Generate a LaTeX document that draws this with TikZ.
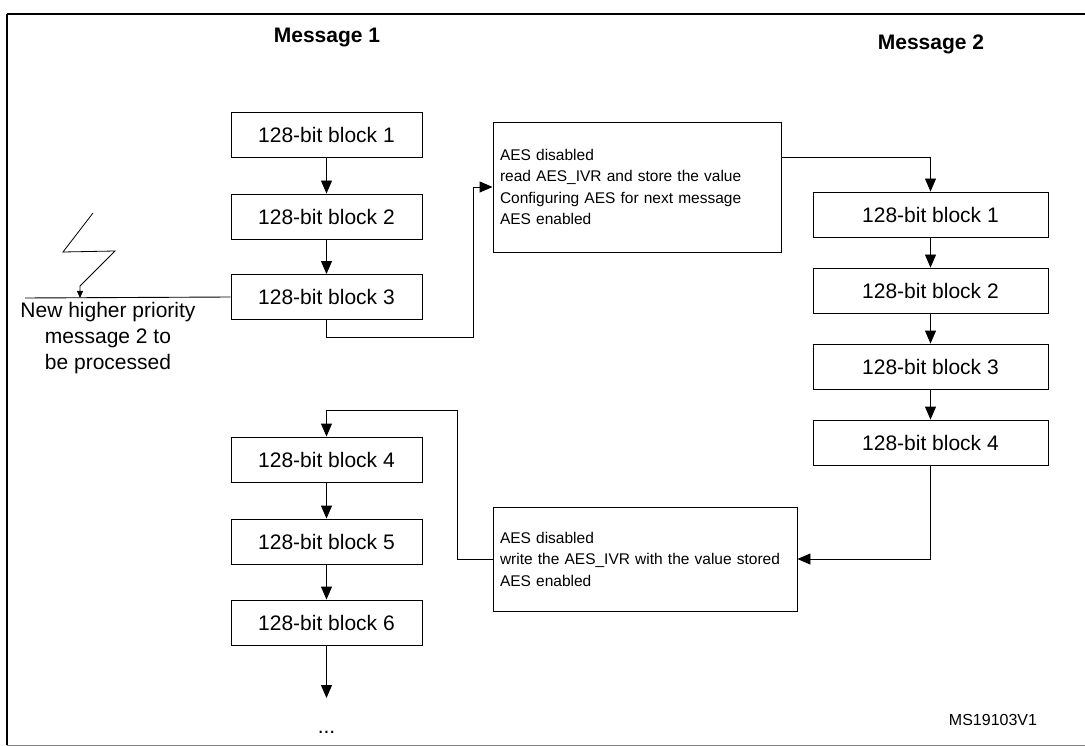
\documentclass[tikz,border=0pt]{standalone}
\usepackage{fontspec}
\setmainfont{Liberation Sans}
\usetikzlibrary{arrows.meta}
\begin{document}
\begin{tikzpicture}[x=1pt,y=-1pt,
  blk/.style={draw, line width=0.9pt, minimum height=45pt, inner sep=0pt, font=\fontsize{21}{24}\selectfont},
  m1/.style={blk, minimum width=191pt},
  m2/.style={blk, minimum width=235pt},
  note/.style={draw, line width=0.9pt, inner sep=0pt, align=left, font=\fontsize{15.5}{21.5}\selectfont},
  arr/.style={line width=0.9pt, -{Triangle[width=11pt,length=13pt]}},
  ln/.style={line width=0.9pt},
  ttl/.style={font=\bfseries\fontsize{21}{24}\selectfont}]
\useasboundingbox (0,0) rectangle (1085,746);
\draw[line width=1.6pt] (7,14) -- (7,745) (7,14) -- (1085,14);
\draw[line width=0.9pt,gray] (7,745) -- (1085,745);

\node[ttl] (t1) at (327,38) {Message 1};
\node[ttl] (t2) at (931,44) {Message 2};

\node[m1] (b1) at (326.5,135) {128-bit block 1};
\node[m1] (b2) at (326.5,216.5) {128-bit block 2};
\node[m1] (b3) at (326.5,297) {128-bit block 3};
\node[m1] (b4) at (326.5,459.5) {128-bit block 4};
\node[m1] (b5) at (326.5,541.5) {128-bit block 5};
\node[m1] (b6) at (326.5,622.5) {128-bit block 6};

\node[m2] (c1) at (930.5,214.5) {128-bit block 1};
\node[m2] (c2) at (930.5,290.5) {128-bit block 2};
\node[m2] (c3) at (930.5,366.5) {128-bit block 3};
\node[m2] (c4) at (930.5,442.5) {128-bit block 4};

\node[note, minimum width=288pt, minimum height=130pt, text width=274pt] (A) at (637,187)
  {AES disabled\\read AES\_IVR and store the value\\Configuring AES for next message\\AES enabled};
\node[note, minimum width=304pt, minimum height=104pt, text width=290pt] (B) at (645,559)
  {AES disabled\\write the AES\_IVR with the value stored\\AES enabled};

\draw[arr] (b1) -- (b2);
\draw[arr] (b2) -- (b3);
\draw[arr] (b4) -- (b5);
\draw[arr] (b5) -- (b6);
\coordinate (e6) at (326.5,698);
\draw[arr] (b6) -- (e6);
\node[font=\fontsize{21}{24}\selectfont] (dots) at (326.5,732) {...};

\draw[arr] (c1) -- (c2);
\draw[arr] (c2) -- (c3);
\draw[arr] (c3) -- (c4);

\coordinate (j1) at (473,337);
\coordinate (j2) at (473,187);
\draw[arr] (b3.south) |- (j1) -- (j2) -- (A.west);
\coordinate (j3) at (781,157);
\draw[arr] (j3) -| (c1.north);
\draw[arr] (c4.south) |- (B.east);
\coordinate (j4) at (457,410);
\draw[arr] (B.west) -| (j4) -| (b4.north);

\coordinate (s0) at (25,298);
\draw[ln] (s0) -- (b3.west);
\coordinate (z0) at (93,213);
\coordinate (z1) at (63,252);
\coordinate (z2) at (115,251);
\coordinate (z3) at (80,286);
\coordinate (z4) at (80,298);
\draw[line width=0.8pt, -{Triangle[width=6pt,length=7pt]}] (z0) -- (z1) -- (z2) -- (z3) -- (z4);
\node[align=center, font=\fontsize{21}{26}\selectfont] (nh) at (108,338)
  {New higher priority\\message 2 to\\be processed};

\node[font=\fontsize{16}{18}\selectfont] (ms) at (993,720) {MS19103V1};
\end{tikzpicture}
\end{document}
